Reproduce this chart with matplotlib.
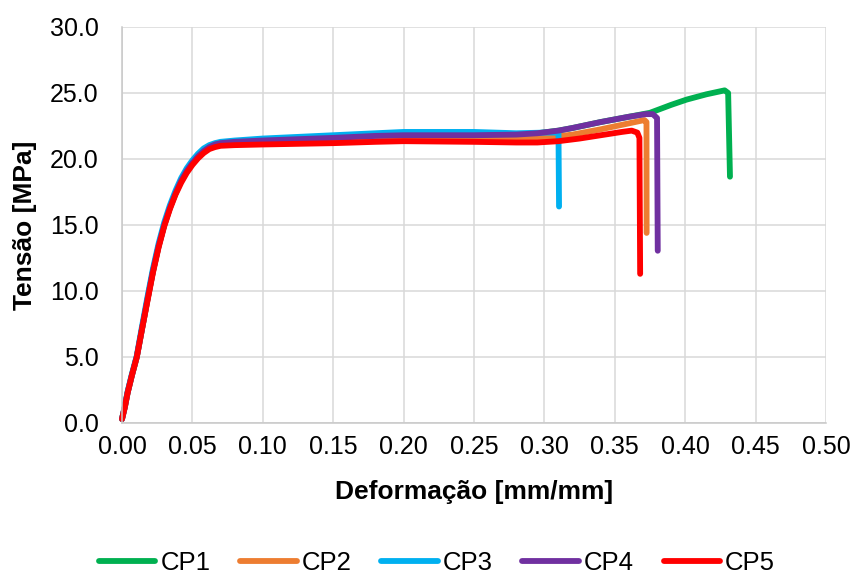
import matplotlib
matplotlib.use("Agg")
import matplotlib.pyplot as plt

plt.rcParams["font.family"] = ["Liberation Sans", "DejaVu Sans"]

# Stress-strain curves for five specimens (strain in mm/mm, stress in MPa)
cp1_strain = [0, 0.002, 0.004, 0.007, 0.0105, 0.014, 0.018, 0.022, 0.026, 0.030, 0.034, 0.038,
              0.042, 0.046, 0.050, 0.054, 0.058, 0.062, 0.066, 0.070, 0.080, 0.100, 0.150,
              0.180, 0.200, 0.250, 0.280, 0.295, 0.310, 0.320, 0.340, 0.360, 0.375, 0.390,
              0.401, 0.415, 0.428, 0.4305, 0.4318]
cp1_stress = [0.3, 1.2, 2.3, 3.6, 5.0, 7.0, 9.3, 11.5, 13.4, 15.0, 16.3, 17.4,
              18.35, 19.1, 19.7, 20.2, 20.6, 20.9, 21.1, 21.2, 21.3, 21.4, 21.6,
              21.75, 21.8, 21.8, 21.85, 21.95, 22.15, 22.35, 22.8, 23.2, 23.5, 24.1,
              24.5, 24.9, 25.2, 25.0, 18.66]

cp2_strain = [0, 0.002, 0.004, 0.007, 0.0105, 0.014, 0.018, 0.022, 0.026, 0.030, 0.034, 0.038,
              0.042, 0.046, 0.050, 0.054, 0.058, 0.062, 0.066, 0.070, 0.080, 0.100, 0.150,
              0.200, 0.250, 0.280, 0.300, 0.320, 0.340, 0.360, 0.371, 0.3725, 0.3726]
cp2_stress = [0.3, 1.2, 2.3, 3.6, 5.0, 7.0, 9.3, 11.5, 13.4, 15.0, 16.3, 17.4,
              18.3, 19.05, 19.65, 20.15, 20.55, 20.85, 21.0, 21.1, 21.15, 21.2, 21.4,
              21.55, 21.55, 21.5, 21.6, 21.85, 22.25, 22.7, 22.95, 22.8, 14.4]

cp3_strain = [0, 0.002, 0.004, 0.007, 0.0105, 0.014, 0.018, 0.022, 0.026, 0.030, 0.034, 0.038,
              0.042, 0.046, 0.050, 0.054, 0.058, 0.062, 0.066, 0.070, 0.080, 0.100, 0.150,
              0.180, 0.200, 0.250, 0.280, 0.300, 0.310, 0.3104]
cp3_stress = [0.3, 1.3, 2.4, 3.7, 5.1, 7.2, 9.5, 11.7, 13.6, 15.2, 16.5, 17.6,
              18.55, 19.3, 19.9, 20.4, 20.8, 21.05, 21.2, 21.3, 21.4, 21.55, 21.8,
              21.95, 22.05, 22.05, 21.95, 22.0, 22.0, 16.4]

cp4_strain = [0, 0.002, 0.004, 0.007, 0.0105, 0.014, 0.018, 0.022, 0.026, 0.030, 0.034, 0.038,
              0.042, 0.046, 0.050, 0.054, 0.058, 0.062, 0.066, 0.070, 0.080, 0.100, 0.150,
              0.180, 0.200, 0.250, 0.280, 0.295, 0.310, 0.320, 0.340, 0.360, 0.372, 0.377,
              0.380, 0.3805]
cp4_stress = [0.3, 1.2, 2.3, 3.6, 5.0, 7.0, 9.3, 11.5, 13.4, 15.0, 16.3, 17.4,
              18.35, 19.1, 19.7, 20.2, 20.6, 20.9, 21.1, 21.2, 21.3, 21.4, 21.6,
              21.75, 21.8, 21.8, 21.85, 21.95, 22.15, 22.35, 22.8, 23.2, 23.4, 23.4,
              23.1, 13.05]

cp5_strain = [0, 0.002, 0.004, 0.007, 0.0105, 0.014, 0.018, 0.022, 0.026, 0.030, 0.034, 0.038,
              0.042, 0.046, 0.050, 0.054, 0.058, 0.062, 0.066, 0.070, 0.080, 0.100, 0.150,
              0.180, 0.200, 0.250, 0.280, 0.295, 0.310, 0.325, 0.340, 0.355, 0.362, 0.366,
              0.3675, 0.368]
cp5_stress = [0.3, 1.2, 2.3, 3.6, 5.0, 7.0, 9.2, 11.4, 13.3, 14.9, 16.2, 17.3,
              18.2, 18.95, 19.55, 20.05, 20.45, 20.75, 20.9, 21.0, 21.05, 21.1, 21.2,
              21.3, 21.35, 21.3, 21.25, 21.25, 21.35, 21.55, 21.8, 22.05, 22.15, 22.0,
              21.6, 11.3]

series_names = ["CP1", "CP2", "CP3", "CP4", "CP5"]
series_colors = ["#00B050", "#ED7D31", "#00B0F0", "#7030A0", "#FF0000"]

x_ticks = [0.00, 0.05, 0.10, 0.15, 0.20, 0.25, 0.30, 0.35, 0.40, 0.45, 0.50]
y_ticks = [0.0, 5.0, 10.0, 15.0, 20.0, 25.0, 30.0]

strains = [cp1_strain, cp2_strain, cp3_strain, cp4_strain, cp5_strain]
stresses = [cp1_stress, cp2_stress, cp3_stress, cp4_stress, cp5_stress]

fig = plt.figure(figsize=(8.58, 5.76), dpi=100)
ax = fig.add_axes([122 / 858, 1 - 423 / 576, (826 - 122) / 858, (423 - 27) / 576])

for xs, ys, name, color in zip(strains, stresses, series_names, series_colors):
    ax.plot(xs, ys, color=color, lw=4.2, label=name,
            solid_capstyle="round", solid_joinstyle="round", clip_on=False)

ax.set_xlim(0, 0.5)
ax.set_ylim(0, 30)
ax.set_xticks(x_ticks)
ax.set_yticks(y_ticks)
ax.set_xticklabels([f"{v:.2f}" for v in x_ticks])
ax.set_yticklabels([f"{v:.1f}" for v in y_ticks])
ax.tick_params(length=0, labelsize=18, colors="#000000")
ax.tick_params(axis="y", pad=17)
ax.tick_params(axis="x", pad=9)

ax.grid(True, color="#d9d9d9", lw=1.1)
ax.set_axisbelow(True)
for side in ["top", "right"]:
    ax.spines[side].set_visible(False)
for side in ["left", "bottom"]:
    ax.spines[side].set_color("#c8c8c8")
    ax.spines[side].set_linewidth(1.1)

ax.set_xlabel("Deformação [mm/mm]", fontsize=19, fontweight="bold", labelpad=15)
ax.set_ylabel("Tensão [MPa]", fontsize=19, fontweight="bold", labelpad=9)

handles, labels = ax.get_legend_handles_labels()
fig.legend(handles, labels, loc="center", bbox_to_anchor=(437 / 858, 1 - 563 / 576),
           ncol=5, frameon=False, fontsize=18.5, handlelength=2.2, handletextpad=0.2,
           columnspacing=1.15)

fig.savefig("out.png", dpi=100)
